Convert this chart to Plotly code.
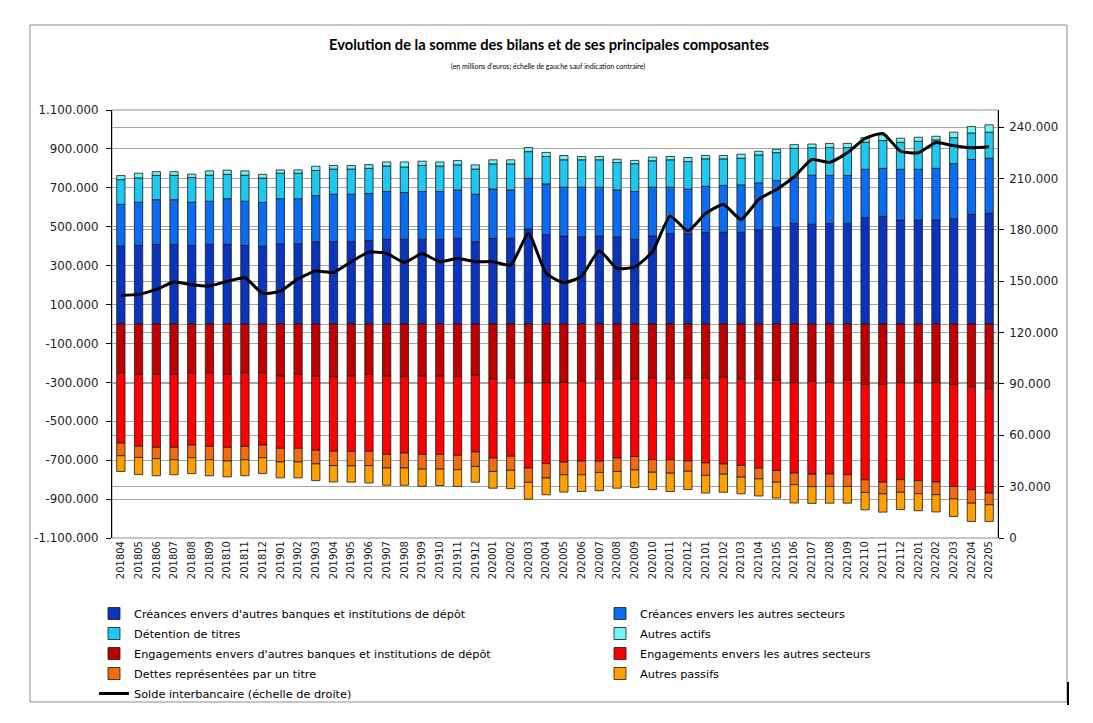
import plotly.graph_objects as go

months = ["201804", "201805", "201806", "201807", "201808", "201809", "201810", "201811", "201812",
          "201901", "201902", "201903", "201904", "201905", "201906", "201907", "201908", "201909",
          "201910", "201911", "201912", "202001", "202002", "202003", "202004", "202005", "202006",
          "202007", "202008", "202009", "202010", "202011", "202012", "202101", "202102", "202103",
          "202104", "202105", "202106", "202107", "202108", "202109", "202110", "202111", "202112",
          "202201", "202202", "202203", "202204", "202205"]

# Actifs (millions d'euros)
creances_banques = [400000, 404000, 409000, 409000, 404000, 409000, 409000, 404000, 400000, 412000,
                    412000, 423000, 423000, 423000, 429000, 435000, 435000, 435000, 435000, 440000,
                    423000, 440000, 440000, 488000, 459000, 452000, 447000, 452000, 447000, 435000,
                    452000, 464000, 464000, 471000, 471000, 471000, 484000, 496000, 517000, 512000,
                    517000, 517000, 546000, 553000, 534000, 534000, 534000, 541000, 563000, 569000]
creances_autres = [215000, 222000, 230000, 230000, 222000, 222000, 235000, 227000, 225000, 232000,
                   232000, 237000, 244000, 244000, 242000, 246000, 241000, 246000, 246000, 249000,
                   244000, 254000, 249000, 261000, 261000, 251000, 256000, 251000, 242000, 246000,
                   251000, 239000, 230000, 237000, 241000, 244000, 241000, 242000, 237000, 253000,
                   247000, 247000, 249000, 247000, 261000, 261000, 266000, 283000, 283000, 283000]
detention_titres = [127000, 125000, 125000, 125000, 127000, 134000, 125000, 134000, 125000, 131000,
                    131000, 129000, 129000, 129000, 129000, 131000, 131000, 134000, 131000, 129000,
                    129000, 129000, 134000, 137000, 141000, 141000, 141000, 141000, 141000, 143000,
                    136000, 141000, 141000, 141000, 137000, 137000, 144000, 143000, 149000, 141000,
                    143000, 143000, 139000, 143000, 139000, 144000, 146000, 134000, 136000, 134000]
autres_actifs = [21000, 24000, 19000, 19000, 17000, 22000, 22000, 22000, 19000, 17000,
                 17000, 22000, 19000, 19000, 19000, 21000, 26000, 22000, 21000, 22000,
                 22000, 21000, 21000, 21000, 21000, 22000, 17000, 17000, 17000, 17000,
                 19000, 17000, 21000, 17000, 17000, 21000, 19000, 17000, 19000, 19000,
                 21000, 21000, 24000, 29000, 21000, 21000, 19000, 28000, 33000, 38000]

# Passifs (millions d'euros, montrés en négatif)
engagements_banques = [251000, 259000, 259000, 259000, 251000, 251000, 259000, 251000, 251000, 268000,
                       259000, 268000, 271000, 268000, 259000, 268000, 271000, 268000, 268000, 271000,
                       263000, 282000, 278000, 302000, 302000, 299000, 294000, 282000, 282000, 282000,
                       278000, 282000, 278000, 278000, 273000, 282000, 282000, 289000, 302000, 294000,
                       299000, 289000, 311000, 311000, 302000, 302000, 302000, 311000, 323000, 333000]
engagements_autres = [361000, 369000, 375000, 375000, 371000, 378000, 375000, 378000, 371000, 371000,
                      380000, 381000, 383000, 387000, 395000, 402000, 392000, 402000, 402000, 404000,
                      395000, 407000, 402000, 438000, 416000, 411000, 411000, 423000, 407000, 399000,
                      419000, 416000, 426000, 436000, 447000, 445000, 459000, 464000, 464000, 478000,
                      472000, 486000, 490000, 502000, 498000, 503000, 510000, 524000, 529000, 536000]
dettes_titres = [65000, 58000, 58000, 64000, 65000, 69000, 70000, 69000, 65000, 70000,
                 70000, 70000, 74000, 74000, 74000, 70000, 77000, 76000, 76000, 74000,
                 74000, 69000, 72000, 74000, 74000, 65000, 70000, 58000, 69000, 69000,
                 65000, 69000, 53000, 64000, 52000, 60000, 55000, 60000, 60000, 64000,
                 64000, 60000, 65000, 60000, 65000, 67000, 65000, 64000, 69000, 60000]
autres_passifs = [81000, 88000, 88000, 77000, 82000, 82000, 82000, 82000, 82000, 82000,
                  82000, 86000, 84000, 84000, 89000, 89000, 89000, 88000, 84000, 86000,
                  81000, 86000, 94000, 86000, 86000, 89000, 86000, 94000, 86000, 91000,
                  89000, 94000, 94000, 91000, 93000, 86000, 88000, 82000, 94000, 86000,
                  86000, 86000, 89000, 94000, 89000, 88000, 89000, 91000, 94000, 86000]

# Solde interbancaire (échelle de droite)
solde_interbancaire = [141700, 142300, 145200, 149500, 147900, 147200, 149900, 152000, 142900, 144200,
                       151400, 155900, 155100, 161400, 167000, 166200, 161000, 166000, 161400, 163300,
                       161400, 161400, 159400, 177900, 154600, 149100, 153000, 167800, 157500, 158400,
                       167200, 188000, 179400, 189600, 194800, 186100, 197800, 203600, 211000, 221100,
                       219400, 225000, 233400, 236300, 225900, 225000, 231000, 229100, 227900, 228500]

left_ticks = list(range(-1100000, 1100001, 200000))
right_ticks = list(range(0, 240001, 30000))


def fmt(v):
    return f"{v:,}".replace(",", ".")


FONT = "DejaVu Sans"
OUTLINE = dict(color="#1a1a1a", width=0.8)

series = [
    ("Créances envers d'autres banques et institutions de dépôt", creances_banques, "#0B34BE", 1, "legend"),
    ("Créances envers les autres secteurs", creances_autres, "#0A6CF2", 1, "legend2"),
    ("Détention de titres", detention_titres, "#1EC8F0", 1, "legend"),
    ("Autres actifs", autres_actifs, "#72F4F4", 1, "legend2"),
    ("Engagements envers d'autres banques et institutions de dépôt", engagements_banques, "#C00000", -1, "legend"),
    ("Engagements envers les autres secteurs", engagements_autres, "#FF0000", -1, "legend2"),
    ("Dettes représentées par un titre", dettes_titres, "#F26B0F", -1, "legend"),
    ("Autres passifs", autres_passifs, "#FFA000", -1, "legend2"),
]

fig = go.Figure()
for name, vals, color, sign, leg in series:
    fig.add_trace(go.Bar(
        x=months, y=[sign * v for v in vals], name=name,
        marker=dict(color=color, line=OUTLINE),
        legend=leg, legendgroup=name,
    ))

fig.add_trace(go.Scatter(
    x=months, y=solde_interbancaire, name="Solde interbancaire (échelle de droite)",
    yaxis="y2", mode="lines",
    line=dict(color="#000000", width=3, shape="spline", smoothing=0.5),
    legend="legend", legendgroup="solde",
))

# the page body adds an 8 px offset; work in page coordinates
OFF = 8
W, H = 1093 - OFF, 723 - OFF
PL, PR, PT, PB = 112, 998, 110, 538          # plot area in page pixels
L, R, T, B = PL - OFF, W - (PR - OFF), PT - OFF, H - (PB - OFF)
pw, ph = PR - PL, PB - PT


def px(x):
    return (x - PL) / pw


def py(y):
    return (PB - y) / ph


GRID = "#A6A6A6"
fig.update_layout(
    width=W, height=H, autosize=False,
    margin=dict(l=L, r=R, t=T, b=B, pad=0),
    paper_bgcolor="white", plot_bgcolor="white",
    barmode="relative", bargap=0.53,
    separators=",.",
    showlegend=True,
    title=dict(
        text="Evolution de la somme des bilans et de ses principales composantes",
        font=dict(family="Lato", size=14.7, color="#000000", weight="bold"),
        x=(549 - OFF) / W, xanchor="center", xref="container",
        y=1 - (45 - OFF) / H, yanchor="middle", yref="container",
    ),
    xaxis=dict(
        type="category", tickangle=-90, showgrid=False, zeroline=False,
        showline=False, ticks="",
        tickfont=dict(family=FONT, size=10, color="#1a1a1a"),
    ),
    yaxis=dict(
        range=[-1100000, 1100000], tickvals=left_ticks, ticktext=[fmt(v) for v in left_ticks],
        showgrid=True, gridcolor=GRID, gridwidth=1,
        zeroline=True, zerolinecolor=GRID, zerolinewidth=1,
        showline=True, linecolor="#000000", linewidth=1,
        ticks="outside", ticklen=5, tickcolor="#000000", ticklabelstandoff=5,
        tickfont=dict(family=FONT, size=11.8, color="#1a1a1a"),
    ),
    yaxis2=dict(
        overlaying="y", side="right", range=[0, 250000],
        tickvals=right_ticks, ticktext=[fmt(v) for v in right_ticks],
        showgrid=True, gridcolor=GRID, gridwidth=1, zeroline=False,
        showline=True, linecolor="#000000", linewidth=1,
        ticks="outside", ticklen=5, tickcolor="#000000", ticklabelstandoff=3,
        tickfont=dict(family=FONT, size=11.8, color="#1a1a1a"),
    ),
    legend=dict(
        x=px(94), y=py(599), xanchor="left", yanchor="top", orientation="v",
        traceorder="grouped", tracegroupgap=1, bgcolor="rgba(0,0,0,0)",
        font=dict(family=FONT, size=11.3, color="#000000"),
    ),
    legend2=dict(
        x=px(600), y=py(599), xanchor="left", yanchor="top", orientation="v",
        traceorder="grouped", tracegroupgap=1, bgcolor="rgba(0,0,0,0)",
        font=dict(family=FONT, size=11.3, color="#000000"),
    ),
    annotations=[dict(
        text="(en millions d'euros; échelle de gauche sauf indication contraire)",
        xref="paper", yref="paper", x=px(548), y=py(66), xanchor="center", yanchor="middle",
        showarrow=False, font=dict(family="Lato", size=7, color="#000000"),
    )],
    shapes=[
        dict(type="rect", xref="paper", yref="paper", x0=0, x1=1, y0=0, y1=1,
             line=dict(color="#8C8C8C", width=1), layer="below"),
        dict(type="rect", xref="paper", yref="paper", x0=px(30), x1=px(1067), y0=py(702), y1=py(25),
             line=dict(color="#8C8C8C", width=1), layer="below"),
        dict(type="line", xref="paper", yref="paper", x0=px(1068), x1=px(1068), y0=py(705), y1=py(682),
             line=dict(color="#000000", width=2)),
    ],
)

fig.write_html("out.html")
